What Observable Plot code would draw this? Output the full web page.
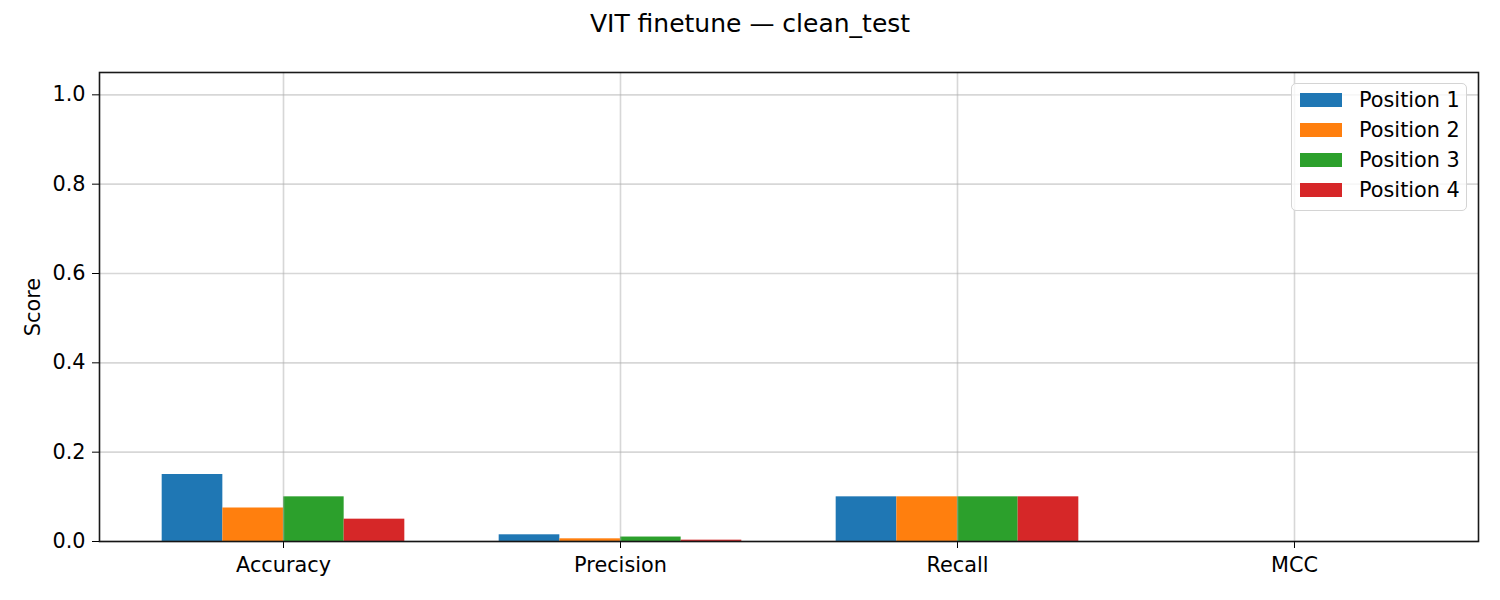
<!DOCTYPE html>
<html>
<head>
<meta charset="utf-8">
<script src="https://cdn.jsdelivr.net/npm/d3@7"></script>
<script src="https://cdn.jsdelivr.net/npm/@observablehq/plot@0.6"></script>
<style>
  html, body { margin: 0; padding: 0; background: #fff; }
  #wrap { position: relative; width: 1500px; height: 600px; font-family: "DejaVu Sans", sans-serif; }
  #title { height: 47px; line-height: 47px; text-align: center; font-size: 25px; color: #000; }
  #legend { position: absolute; left: 1291px; top: 83px; width: 174px; padding: 1px 0 5px 0;
            border: 1.6px solid #d4d4d4; border-radius: 5px; background: rgba(255,255,255,0.8); box-sizing: content-box; }
  .item { display: flex; align-items: center; height: 30px; font-size: 20.8px; color: #000; }
  .sw { width: 42px; height: 14.5px; margin-left: 8px; margin-right: 17px; }
  svg text { font-family: "DejaVu Sans", sans-serif; }
</style>
</head>
<body>
<div id="wrap">
  <div id="title">VIT finetune — clean_test</div>
  <div id="chart"></div>
  <div id="legend"></div>
</div>
<script>
const metrics = ["Accuracy", "Precision", "Recall", "MCC"];
const positions = ["Position 1", "Position 2", "Position 3", "Position 4"];
const position1 = [0.15, 0.015, 0.1, 0];
const position2 = [0.075, 0.006, 0.1, 0];
const position3 = [0.1, 0.01, 0.1, 0];
const position4 = [0.05, 0.003, 0.1, 0];
const colors = ["#1f77b4", "#ff7f0e", "#2ca02c", "#d62728"];
const yTicks = [0, 0.2, 0.4, 0.6, 0.8, 1.0];
const yLabel = "Score";

const series = [position1, position2, position3, position4];
const barW = 0.18;
const rows = [];
series.forEach((vals, p) => {
  vals.forEach((v, m) => {
    const c = m + (p - (series.length - 1) / 2) * barW;
    rows.push({metric: metrics[m], position: positions[p], x1: c - barW / 2, x2: c + barW / 2, value: v});
  });
});

const chart = Plot.plot({
  width: 1500,
  height: 553,
  marginTop: 25,
  marginBottom: 59,
  marginLeft: 99,
  marginRight: 22,
  style: {fontSize: "20.8px", fontFamily: "DejaVu Sans, sans-serif", color: "#000", background: "#fff"},
  x: {domain: [-0.546, 3.546], ticks: [0, 1, 2, 3], tickFormat: i => metrics[i], label: null, tickSize: 7, tickPadding: 9},
  y: {domain: [0, 1.05], ticks: yTicks, tickFormat: d3.format(".1f"), label: null, tickSize: 7, tickPadding: 7},
  color: {domain: positions, range: colors},
  marks: [
    Plot.rectY(rows, {x1: "x1", x2: "x2", y1: 0, y2: "value", fill: "position"}),
    Plot.gridX([0, 1, 2, 3], {stroke: "#b0b0b0", strokeOpacity: 0.5, strokeWidth: 1.6}),
    Plot.gridY(yTicks, {stroke: "#b0b0b0", strokeOpacity: 0.5, strokeWidth: 1.6}),
    Plot.frame({stroke: "#000", strokeWidth: 1.6, strokeOpacity: 0.9}),
    Plot.text([yLabel], {text: d => d, frameAnchor: "left", textAnchor: "middle", rotate: -90, dx: -66, fill: "#000", fontSize: 20.8})
  ]
});
document.getElementById("chart").appendChild(chart);

const legend = document.getElementById("legend");
positions.forEach((p, i) => {
  const item = document.createElement("div");
  item.className = "item";
  const sw = document.createElement("div");
  sw.className = "sw";
  sw.style.background = colors[i];
  const lab = document.createElement("span");
  lab.textContent = p;
  item.appendChild(sw);
  item.appendChild(lab);
  legend.appendChild(item);
});
</script>
</body>
</html>
